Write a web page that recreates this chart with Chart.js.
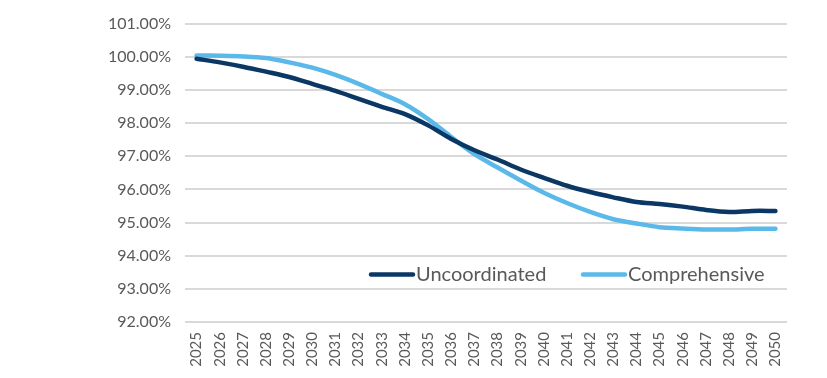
<!DOCTYPE html>
<html>
<head>
<meta charset="utf-8">
<script src="https://cdn.jsdelivr.net/npm/chart.js@4.4.1/dist/chart.umd.min.js"></script>
<style>
  html, body { margin: 0; padding: 0; background: #fff; }
  #wrap { width: 827px; height: 378px; position: relative; }
</style>
</head>
<body>
<div id="wrap"><canvas id="chart"></canvas></div>
<script>
const years = ['2025', '2026', '2027', '2028', '2029', '2030', '2031', '2032', '2033', '2034', '2035', '2036', '2037',
  '2038', '2039', '2040', '2041', '2042', '2043', '2044', '2045', '2046', '2047', '2048', '2049', '2050'];

const uncoordinated = [99.94, 99.83, 99.70, 99.55, 99.39, 99.18, 98.97, 98.73, 98.49, 98.27, 97.93, 97.52, 97.18,
  96.90, 96.60, 96.35, 96.11, 95.92, 95.76, 95.62, 95.56, 95.48, 95.38, 95.32, 95.35, 95.35];

const comprehensive = [100.04, 100.03, 100.01, 99.96, 99.83, 99.67, 99.45, 99.18, 98.88, 98.57, 98.12, 97.58, 97.06,
  96.66, 96.27, 95.90, 95.59, 95.32, 95.10, 94.97, 94.86, 94.82, 94.79, 94.79, 94.81, 94.81];

const DARK = '#0b3765';
const LIGHT = '#5bb9ea';
const FONT = 'Lato, "Open Sans", sans-serif';

// legend drawn inside the plot area, like the original
const insideLegend = {
  id: 'insideLegend',
  afterDatasetsDraw(chart) {
    const { ctx, chartArea } = chart;
    const y = chartArea.top + 251;
    const items = [
      { label: 'Uncoordinated', color: DARK, x: chartArea.left + 186 },
      { label: 'Comprehensive', color: LIGHT, x: chartArea.left + 398 }
    ];
    ctx.save();
    ctx.font = `20px ${FONT}`;
    ctx.textBaseline = 'middle';
    items.forEach((it) => {
      ctx.strokeStyle = it.color;
      ctx.lineWidth = 4.5;
      ctx.lineCap = 'round';
      ctx.beginPath();
      ctx.moveTo(it.x, y);
      ctx.lineTo(it.x + 42, y);
      ctx.stroke();
      ctx.fillStyle = '#595959';
      ctx.fillText(it.label, it.x + 45, y);
    });
    ctx.restore();
  }
};

new Chart(document.getElementById('chart'), {
  type: 'line',
  data: {
    labels: years,
    datasets: [
      { label: 'Uncoordinated', data: uncoordinated, borderColor: DARK, backgroundColor: DARK, borderWidth: 4.5, pointRadius: 0, tension: 0.3, borderCapStyle: 'round' },
      { label: 'Comprehensive', data: comprehensive, borderColor: LIGHT, backgroundColor: LIGHT, borderWidth: 4.5, pointRadius: 0, tension: 0.3, borderCapStyle: 'round' }
    ]
  },
  options: {
    responsive: true,
    maintainAspectRatio: false,
    animation: false,
    layout: { padding: { top: 10, right: 40, left: 0, bottom: 4 } },
    plugins: {
      legend: { display: false },
      tooltip: { enabled: false }
    },
    scales: {
      x: {
        offset: true,
        grid: { display: false },
        border: { display: false },
        afterFit: (s) => { s.height = 52; },
        ticks: { color: '#595959', font: { family: FONT, size: 15 }, minRotation: 90, maxRotation: 90, autoSkip: false, padding: 2 }
      },
      y: {
        min: 92,
        max: 101,
        afterFit: (s) => { s.width = 185; },
        grid: { color: '#d9d9d9', lineWidth: 2, drawTicks: false },
        border: { display: false },
        ticks: {
          stepSize: 1,
          padding: 14,
          color: '#595959',
          font: { family: FONT, size: 16 },
          callback: (v) => `${Number(v).toFixed(2)}%`
        }
      }
    }
  },
  plugins: [insideLegend]
});
</script>
</body>
</html>
